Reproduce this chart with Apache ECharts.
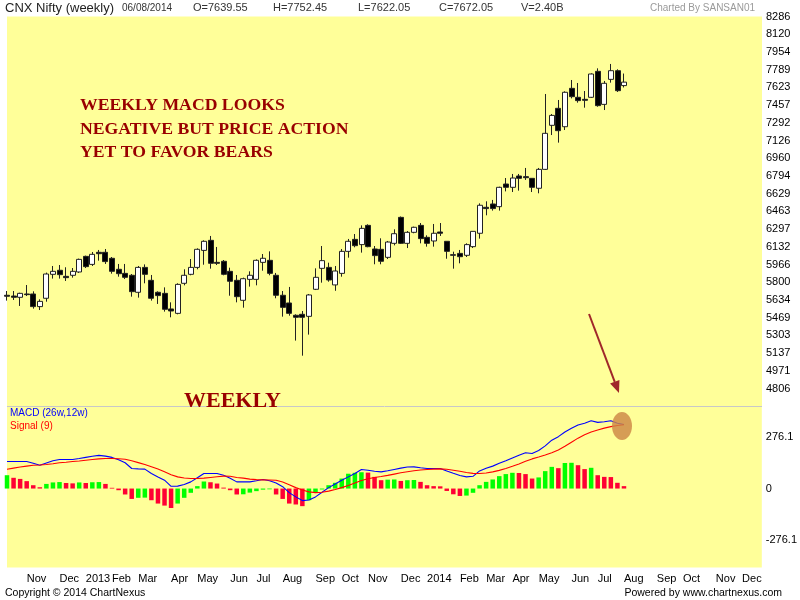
<!DOCTYPE html>
<html>
<head>
<meta charset="utf-8">
<script src="https://cdn.jsdelivr.net/npm/echarts@6/dist/echarts.min.js"></script>
<style>html,body{margin:0;padding:0;background:#fff}#c{width:800px;height:600px}</style>
</head>
<body>
<div id="c"></div>
<script>
// ---- categories: weekly slots (week starting Monday) ----
const firstWeek = '2012-10-15';
const weekCount = 116;
const weeks = [];
(function () {
  const t0 = Date.parse(firstWeek + 'T00:00:00Z');
  for (let i = 0; i < weekCount; i++) weeks.push(new Date(t0 + i * 7 * 86400000).toISOString().slice(0, 10));
})();

// ---- x tick labels ----
const xTickWeeks = ['2012-11-05','2012-12-10','2013-01-07','2013-02-04','2013-03-04','2013-04-08','2013-05-06','2013-06-10','2013-07-08','2013-08-05','2013-09-09','2013-10-07','2013-11-04','2013-12-09','2014-01-06','2014-02-10','2014-03-10','2014-04-07','2014-05-05','2014-06-09','2014-07-07','2014-08-04','2014-09-08','2014-10-06','2014-11-10','2014-12-08'];
const xTickLabels = ['Nov','Dec','2013','Feb','Mar','Apr','May','Jun','Jul','Aug','Sep','Oct','Nov','Dec','2014','Feb','Mar','Apr','May','Jun','Jul','Aug','Sep','Oct','Nov','Dec'];

// ---- y tick labels ----
const priceTicks = [8286,8120,7954,7789,7623,7457,7292,7126,6960,6794,6629,6463,6297,6132,5966,5800,5634,5469,5303,5137,4971,4806];
const macdTicks = [276.1, 0, -276.1];

// ---- weekly OHLC ----
const open = [
  5678,5671,5659,5690,5690,5572,5650,5874,5912,5855,
  5865,5896,6042,5967,6080,6080,6024,5921,5883,5865,
  5706,5939,5818,5706,5696,5550,5509,5790,5874,5939,
  6098,6192,5986,5996,5902,5818,5631,5827,5827,5986,
  6005,5865,5678,5606,5491,5500,5481,5734,5930,5939,
  5775,5883,6089,6201,6152,6332,6111,6108,6033,6164,
  6407,6164,6267,6332,6220,6186,6270,6183,6058,6070,
  6052,6133,6258,6501,6532,6507,6719,6688,6794,6788,
  6772,6679,6856,7268,7427,7255,7614,7530,7511,7530,
  7773,7464,7698,7779,7639.55];
const high = [
  5718,5718,5702,5774,5715,5640,5890,5952,5961,5940,
  5933,6021,6049,6083,6102,6111,6036,5971,5971,5877,
  5952,5967,5868,5715,5752,5612,5790,5921,6017,6117,
  6192,6233,6130,6008,5936,5868,5843,5902,6014,6064,
  6089,5887,5718,5756,5500,5531,5690,5930,6139,5983,
  5952,6111,6205,6251,6332,6342,6139,6211,6186,6295,
  6415,6279,6320,6354,6239,6345,6354,6183,6086,6102,
  6164,6276,6538,6557,6570,6694,6775,6813,6813,6869,
  6772,6869,7561,7374,7505,7586,7692,7664,7589,7754,
  7801,7683,7842,7792,7752.45];
const low = [
  5628,5634,5578,5671,5553,5540,5618,5834,5834,5812,
  5843,5887,5933,5952,6002,5971,5880,5852,5830,5665,
  5656,5790,5628,5597,5525,5472,5500,5771,5865,5921,
  5964,5927,5961,5865,5674,5612,5562,5759,5771,5908,
  5865,5650,5478,5487,5254,5113,5310,5727,5796,5805,
  5720,5852,6030,6127,6077,6127,5968,5968,6017,6145,
  6158,6120,6258,6164,6133,6133,6233,6020,5927,5977,
  6036,6120,6208,6426,6470,6470,6650,6644,6657,6757,
  6644,6632,6850,7177,7106,7224,7520,7480,7433,7524,
  7442,7411,7667,7580,7622.05];
const close = [
  5669,5659,5696,5684,5572,5621,5877,5902,5871,5843,
  5902,6014,5946,6061,6067,5993,5902,5880,5846,5712,
  5939,5874,5650,5675,5547,5531,5780,5865,5939,6108,
  6183,5977,5977,5874,5809,5665,5833,5865,6005,6024,
  5883,5678,5565,5509,5472,5472,5681,5846,6002,5821,
  5905,6089,6183,6142,6304,6133,6049,5996,6176,6254,
  6164,6267,6314,6208,6164,6258,6258,6089,6052,6039,
  6152,6276,6520,6489,6489,6688,6688,6775,6772,6778,
  6688,6856,7193,7361,7218,7577,7536,7499,7502,7748,
  7452,7661,7779,7592,7672.05];

// ---- MACD (26w,12w), Signal (9), histogram ----
const macd = [
  146,146,146,146,136,126,138,150,157,157,
  157,162,168,174,179,175,168,155,139,108,
  106,105,81,62,45,12,13,22,36,58,
  81,81,81,72,55,36,36,36,42,49,
  42,30,10,-22,-45,-65,-62,-45,-20,5,
  25,45,63,81,103,99,93,90,96,103,
  110,116,117,112,108,108,108,95,82,70,
  63,66,95,110,121,136,150,165,180,193,
  189,205,230,261,280,305,325,343,352,366,
  357,360,366,352,346];
const signal = [
  104,110,116,121,126,127,130,134,139,142,
  146,149,153,157,160,162,162,161,158,150,
  140,130,118,105,90,75,63,57,54,54,
  56,60,64,67,66,60,56,51,48,47,
  46,45,35,20,5,-8,-18,-22,-20,-14,
  -5,5,17,30,43,53,60,65,71,78,
  85,91,96,100,103,105,106,104,99,93,
  87,82,81,84,90,98,108,120,133,147,
  160,170,181,193,208,228,250,272,290,305,
  316,326,334,340,344];
const hist = [
  72,58,52,40,18,7,25,33,35,30,
  28,33,30,34,35,25,4,-9,-32,-56,
  -50,-49,-63,-81,-92,-105,-81,-50,-23,13,
  38,34,27,5,-9,-32,-31,-22,-14,-6,
  -4,-32,-56,-81,-86,-95,-63,-23,-5,18,
  31,54,80,85,88,86,63,45,48,49,
  41,45,46,36,18,13,12,-13,-31,-40,
  -38,-23,18,36,49,67,78,85,84,78,
  54,60,94,117,110,138,139,126,105,112,
  72,63,62,31,13];

const tickMap = {};
xTickWeeks.forEach((w, i) => { tickMap[w] = xTickLabels[i]; });

const candleData = open.map((o, i) => [o, close[i], low[i], high[i]]);

const YELLOW = '#FFFF99';
const SANS = '"Liberation Sans", Arial, sans-serif';
const SERIF = '"Liberation Serif", "Times New Roman", serif';
const MAROON = '#990000';

// arrow geometry (annotation)
const arrowFrom = [589, 314], arrowTo = [619, 393];
const adx = arrowTo[0] - arrowFrom[0], ady = arrowTo[1] - arrowFrom[1];
const alen = Math.sqrt(adx * adx + ady * ady);
const ux = adx / alen, uy = ady / alen;
const headL = 12, headW = 5;
const bx = arrowTo[0] - ux * headL, by = arrowTo[1] - uy * headL;

const chart = echarts.init(document.getElementById('c'));
chart.setOption({
  animation: false,
  backgroundColor: '#ffffff',
  grid: [
    { left: 7, right: 38, top: 16.5, height: 389.5, show: true, backgroundColor: YELLOW, borderWidth: 0 },
    { left: 7, right: 38, top: 407, height: 160.5, show: true, backgroundColor: YELLOW, borderWidth: 0 }
  ],
  xAxis: [
    { type: 'category', gridIndex: 0, data: weeks, boundaryGap: false, show: false },
    { type: 'category', gridIndex: 1, data: weeks, boundaryGap: false,
      axisLine: { show: false }, axisTick: { show: false }, splitLine: { show: false },
      axisLabel: {
        interval: (idx, val) => tickMap[val] !== undefined,
        formatter: (val) => tickMap[val] || '',
        align: 'left', margin: 6, color: '#000', fontSize: 11, fontFamily: SANS
      } }
  ],
  yAxis: [
    { type: 'value', gridIndex: 0, position: 'right', min: 4642.2, max: 8286, scale: true,
      axisLine: { show: false }, axisTick: { show: false }, splitLine: { show: false },
      axisLabel: { customValues: priceTicks, formatter: (v) => String(Math.round(v)), color: '#000', fontSize: 11, fontFamily: SANS, margin: 4 } },
    { type: 'value', gridIndex: 1, position: 'right', min: -426, max: 440,
      axisLine: { show: false }, axisTick: { show: false }, splitLine: { show: false },
      axisLabel: { customValues: macdTicks, formatter: (v) => (v === 0 ? '0' : v.toFixed(1)), color: '#000', fontSize: 11, fontFamily: SANS, margin: 4 } }
  ],
  series: [
    { name: 'CNX Nifty', type: 'candlestick', xAxisIndex: 0, yAxisIndex: 0, data: candleData, barWidth: 5.5,
      itemStyle: { color: '#ffffff', color0: '#000000', borderColor: '#222222', borderColor0: '#222222', borderWidth: 1 } },
    { name: 'Histogram', type: 'bar', xAxisIndex: 1, yAxisIndex: 1, data: hist, barWidth: 4.5,
      itemStyle: { color: (p) => (p.dataIndex === 0 || hist[p.dataIndex] > hist[p.dataIndex - 1]) ? '#00FF00' : '#FF0033' } },
    { name: 'MACD (26w,12w)', type: 'line', xAxisIndex: 1, yAxisIndex: 1, data: macd, showSymbol: false, symbol: 'none',
      lineStyle: { color: '#0000FF', width: 1.1 }, itemStyle: { color: '#0000FF' } },
    { name: 'Signal (9)', type: 'line', xAxisIndex: 1, yAxisIndex: 1, data: signal, showSymbol: false, symbol: 'none',
      lineStyle: { color: '#FF0000', width: 1.1 }, itemStyle: { color: '#FF0000' } }
  ],
  graphic: [
    { type: 'line', z: 50, shape: { x1: 7, y1: 406.5, x2: 762, y2: 406.5 }, style: { stroke: '#c8c8c8', lineWidth: 1 } },
    { type: 'text', z: 50, x: 5, y: 8, style: { text: 'CNX Nifty (weekly)', fill: '#222', font: '13px ' + SANS, verticalAlign: 'middle' } },
    { type: 'text', z: 50, x: 122, y: 8, style: { text: '06/08/2014', fill: '#333', font: '10px ' + SANS, verticalAlign: 'middle' } },
    { type: 'text', z: 50, x: 193, y: 8, style: { text: 'O=7639.55', fill: '#333', font: '11px ' + SANS, verticalAlign: 'middle' } },
    { type: 'text', z: 50, x: 273, y: 8, style: { text: 'H=7752.45', fill: '#333', font: '11px ' + SANS, verticalAlign: 'middle' } },
    { type: 'text', z: 50, x: 358, y: 8, style: { text: 'L=7622.05', fill: '#333', font: '11px ' + SANS, verticalAlign: 'middle' } },
    { type: 'text', z: 50, x: 439, y: 8, style: { text: 'C=7672.05', fill: '#333', font: '11px ' + SANS, verticalAlign: 'middle' } },
    { type: 'text', z: 50, x: 521, y: 8, style: { text: 'V=2.40B', fill: '#333', font: '11px ' + SANS, verticalAlign: 'middle' } },
    { type: 'text', z: 50, x: 650, y: 8, style: { text: 'Charted By SANSAN01', fill: '#9a9a9a', font: '10px ' + SANS, verticalAlign: 'middle' } },
    { type: 'text', z: 50, x: 80, y: 105, style: { text: 'WEEKLY MACD LOOKS', fill: MAROON, font: 'bold 17.7px ' + SERIF, verticalAlign: 'middle' } },
    { type: 'text', z: 50, x: 80, y: 129, style: { text: 'NEGATIVE BUT PRICE ACTION', fill: MAROON, font: 'bold 17.7px ' + SERIF, verticalAlign: 'middle' } },
    { type: 'text', z: 50, x: 80, y: 152, style: { text: 'YET TO FAVOR BEARS', fill: MAROON, font: 'bold 17.7px ' + SERIF, verticalAlign: 'middle' } },
    { type: 'text', z: 50, x: 184, y: 401, style: { text: 'WEEKLY', fill: MAROON, font: 'bold 22px ' + SERIF, verticalAlign: 'middle' } },
    { type: 'text', z: 50, x: 10, y: 413, style: { text: 'MACD (26w,12w)', fill: '#0000FF', font: '10px ' + SANS, verticalAlign: 'middle' } },
    { type: 'text', z: 50, x: 10, y: 426, style: { text: 'Signal (9)', fill: '#FF0000', font: '10px ' + SANS, verticalAlign: 'middle' } },
    { type: 'line', z: 50, shape: { x1: arrowFrom[0], y1: arrowFrom[1], x2: bx, y2: by }, style: { stroke: '#A0282A', lineWidth: 2 } },
    { type: 'polygon', z: 50, shape: { points: [arrowTo, [bx - uy * headW, by + ux * headW], [bx + uy * headW, by - ux * headW]] }, style: { fill: '#A0282A' } },
    { type: 'ellipse', z: 50, shape: { cx: 622, cy: 426, rx: 10, ry: 14 }, style: { fill: 'rgba(205,135,70,0.82)' } },
    { type: 'text', z: 50, x: 5, y: 593, style: { text: 'Copyright \u00a9 2014 ChartNexus', fill: '#000', font: '10.5px ' + SANS, verticalAlign: 'middle' } },
    { type: 'text', z: 50, x: 782, y: 593, style: { text: 'Powered by www.chartnexus.com', fill: '#000', font: '10.5px ' + SANS, align: 'right', verticalAlign: 'middle' } }
  ]
});
</script>
</body>
</html>
